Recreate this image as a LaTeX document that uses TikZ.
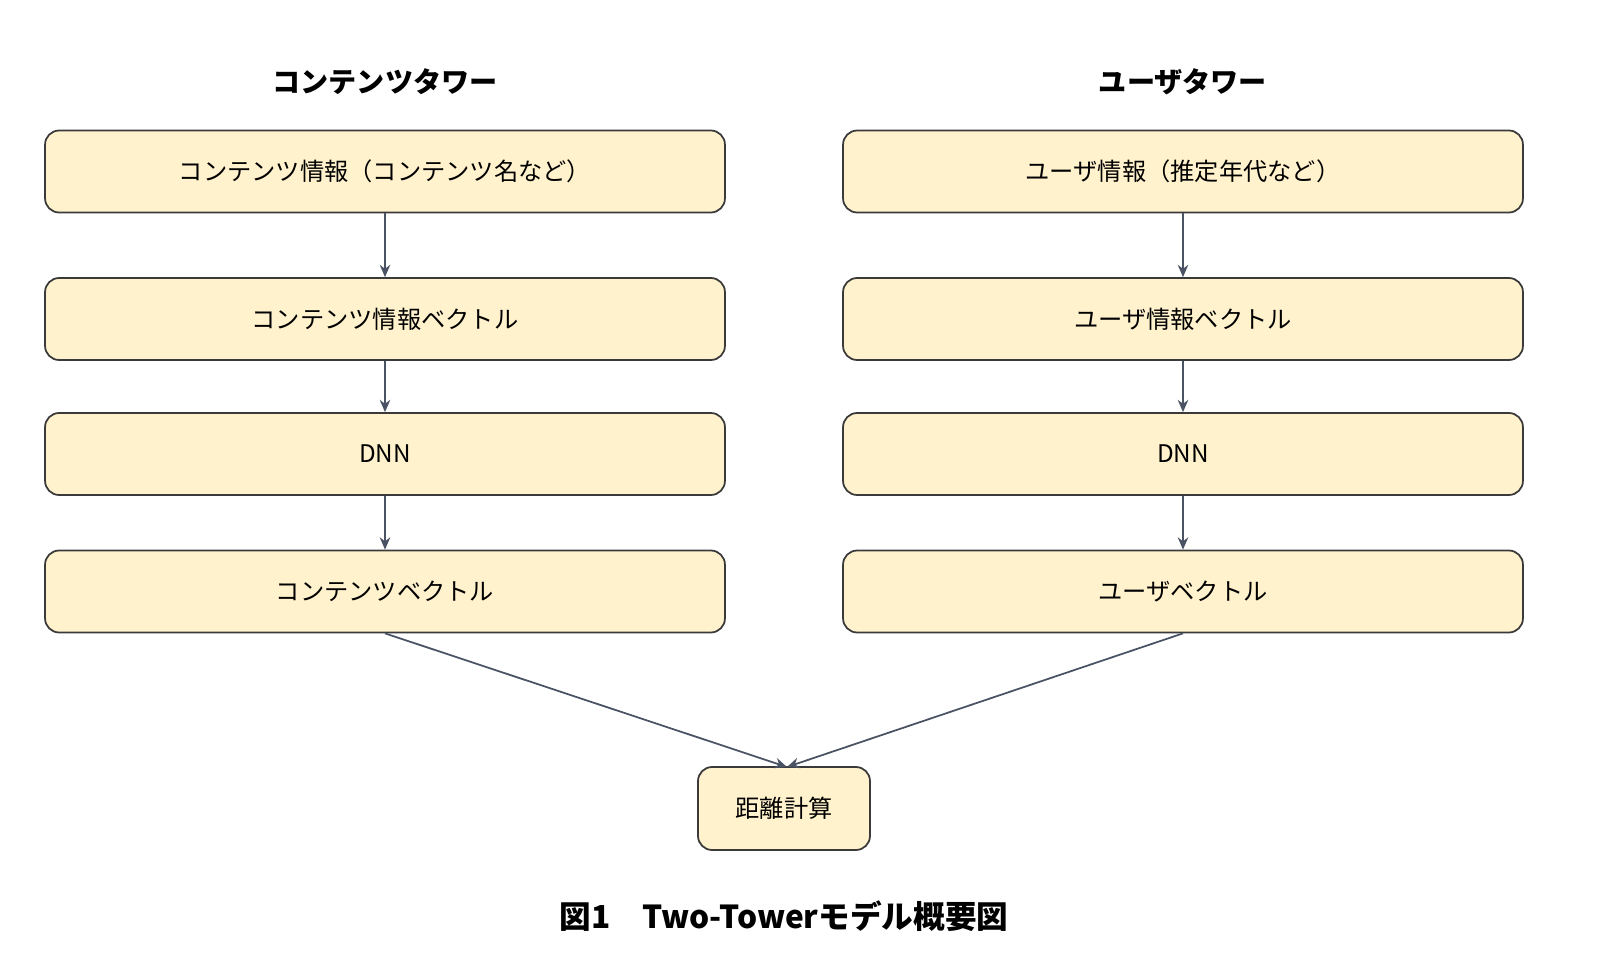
\documentclass[tikz,border=0pt]{standalone}
\usepackage{fontspec}
\setmainfont{Noto Sans CJK JP}
\usetikzlibrary{arrows.meta}
\definecolor{boxfill}{HTML}{FFF2CC}
\definecolor{boxline}{HTML}{3A3A3A}
\definecolor{arr}{HTML}{4A5363}
\tikzset{
  px/.style={x=0.02cm,y=-0.02cm},
  bx/.style={draw=boxline,fill=boxfill,line width=1pt,rounded corners=8pt,minimum width=13.6cm,minimum height=1.64cm,font=\fontsize{13.8}{15}\selectfont,inner sep=0pt},
  small/.style={bx,minimum width=3.44cm,minimum height=1.66cm},
  ttl/.style={font=\fontsize{16}{18}\bfseries\selectfont},
  ar/.style={draw=arr,line width=1pt,-{Stealth[length=7pt,width=6pt]}}
}
\begin{document}
\begin{tikzpicture}[px]
\useasboundingbox (0,0) rectangle (1600,976);
\node[ttl] (t1) at (385,82) {コンテンツタワー};
\node[ttl] (t2) at (1183,82) {ユーザタワー};
\node[bx] (a1) at (385,171.5) {コンテンツ情報（コンテンツ名など）};
\node[bx] (a2) at (385,319) {コンテンツ情報ベクトル};
\node[bx] (a3) at (385,454) {DNN};
\node[bx] (a4) at (385,591.5) {コンテンツベクトル};
\node[bx] (b1) at (1183,171.5) {ユーザ情報（推定年代など）};
\node[bx] (b2) at (1183,319) {ユーザ情報ベクトル};
\node[bx] (b3) at (1183,454) {DNN};
\node[bx] (b4) at (1183,591.5) {ユーザベクトル};
\node[small] (d) at (784,808.5) {距離計算};
\coordinate (dt) at (787,767);
\draw[ar] (a1) -- (a2);
\draw[ar] (a2) -- (a3);
\draw[ar] (a3) -- (a4);
\draw[ar] (b1) -- (b2);
\draw[ar] (b2) -- (b3);
\draw[ar] (b3) -- (b4);
\draw[ar] (a4.south) -- (dt);
\draw[ar] (b4.south) -- (dt);
\node[font=\fontsize{18}{21}\bfseries\selectfont] (cap) at (784,916) {図1\quad Two-Towerモデル概要図};
\end{tikzpicture}
\end{document}
